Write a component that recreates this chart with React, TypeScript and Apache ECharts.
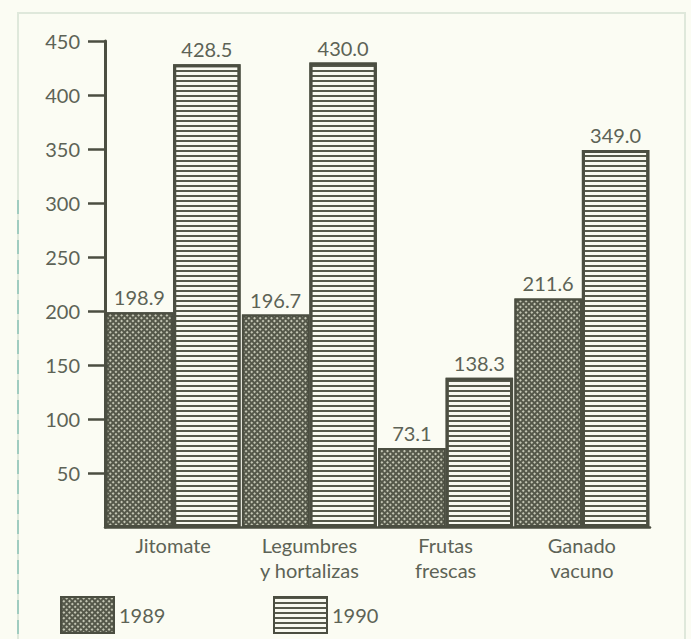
import React, { useEffect, useRef } from "react";
import * as echarts from "echarts";

const categories = ["Jitomate", "Legumbres\ny hortalizas", "Frutas\nfrescas", "Ganado\nvacuno"];
const values1989 = [198.9, 196.7, 73.1, 211.6];
const values1990 = [428.5, 430.0, 138.3, 349.0];
const yTicks = [50, 100, 150, 200, 250, 300, 350, 400, 450];

const INK = "#4b4e41";
const TEXT = "#5d6356";
const PAPER = "#fbfcf3";
const FONT = "Lato, 'Open Sans', sans-serif";

export default function App() {
  const ref = useRef<HTMLDivElement>(null);

  useEffect(() => {
    if (!ref.current) return;
    const chart = echarts.init(ref.current, undefined, { renderer: "svg" });

    const valueLabel = {
      show: true,
      position: "top" as const,
      distance: 5,
      color: TEXT,
      fontFamily: FONT,
      fontSize: 20,
      formatter: (p: any) => Number(p.value).toFixed(1),
    };

    const legendBase = {
      top: 596,
      padding: 0,
      icon: "rect",
      itemWidth: 53,
      itemHeight: 36,
      itemGap: 9,
      textStyle: { color: TEXT, fontSize: 20, fontFamily: FONT },
    };

    chart.setOption({
      animation: false,
      backgroundColor: PAPER,
      textStyle: { fontFamily: FONT },
      grid: { left: 105, right: 41, top: 41, bottom: 112, containLabel: false },
      legend: [
        { ...legendBase, data: ["1989"], left: 60 },
        { ...legendBase, data: ["1990"], left: 273 },
      ],
      xAxis: {
        type: "category",
        data: categories,
        axisLine: { show: true, lineStyle: { color: INK, width: 2.5 } },
        axisTick: { show: false },
        axisLabel: {
          color: TEXT,
          fontSize: 20,
          lineHeight: 25,
          margin: 5,
          fontFamily: FONT,
        },
      },
      yAxis: {
        type: "value",
        min: 0,
        max: 450,
        interval: 50,
        splitLine: { show: false },
        axisLine: { show: true, lineStyle: { color: INK, width: 3 } },
        axisTick: { show: true, length: 17, customValues: yTicks, lineStyle: { color: INK, width: 2.5 } },
        axisLabel: {
          color: TEXT,
          fontSize: 20,
          margin: 25,
          fontFamily: FONT,
          customValues: yTicks,
        },
      },
      series: [
        {
          name: "1989",
          type: "bar",
          data: values1989,
          barGap: "0%",
          barCategoryGap: "1%",
          itemStyle: {
            color: "#55584a",
            borderColor: INK,
            borderWidth: 2,
            decal: {
              symbol: "rect",
              symbolSize: 1,
              color: "#c4c6b4",
              dashArrayX: [1.3, 1.7],
              dashArrayY: [1.3, 1.7],
              rotation: Math.PI / 4,
            },
          },
          label: valueLabel,
        },
        {
          name: "1990",
          type: "bar",
          data: values1990,
          itemStyle: {
            color: "#f8f9f0",
            borderColor: INK,
            borderWidth: 3,
            decal: {
              symbol: "rect",
              symbolSize: 1,
              color: "#56594b",
              dashArrayX: [1, 0],
              dashArrayY: [1.7, 3],
              rotation: 0,
            },
          },
          label: valueLabel,
        },
      ],
      graphic: [
        {
          type: "rect",
          shape: { x: 18, y: 13, width: 667, height: 640 },
          style: { fill: "none", stroke: "#dfe8db", lineWidth: 2 },
          silent: true,
          z: -1,
        },
        {
          type: "line",
          shape: { x1: 18, y1: 200, x2: 18, y2: 639 },
          style: { stroke: "#8cc2b8", lineWidth: 1.5, lineDash: [14, 6] },
          silent: true,
        },
      ],
    });

    return () => chart.dispose();
  }, []);

  return (
    <div
      ref={ref}
      style={{ position: "fixed", left: 0, top: 0, width: 691, height: 639 }}
    />
  );
}
